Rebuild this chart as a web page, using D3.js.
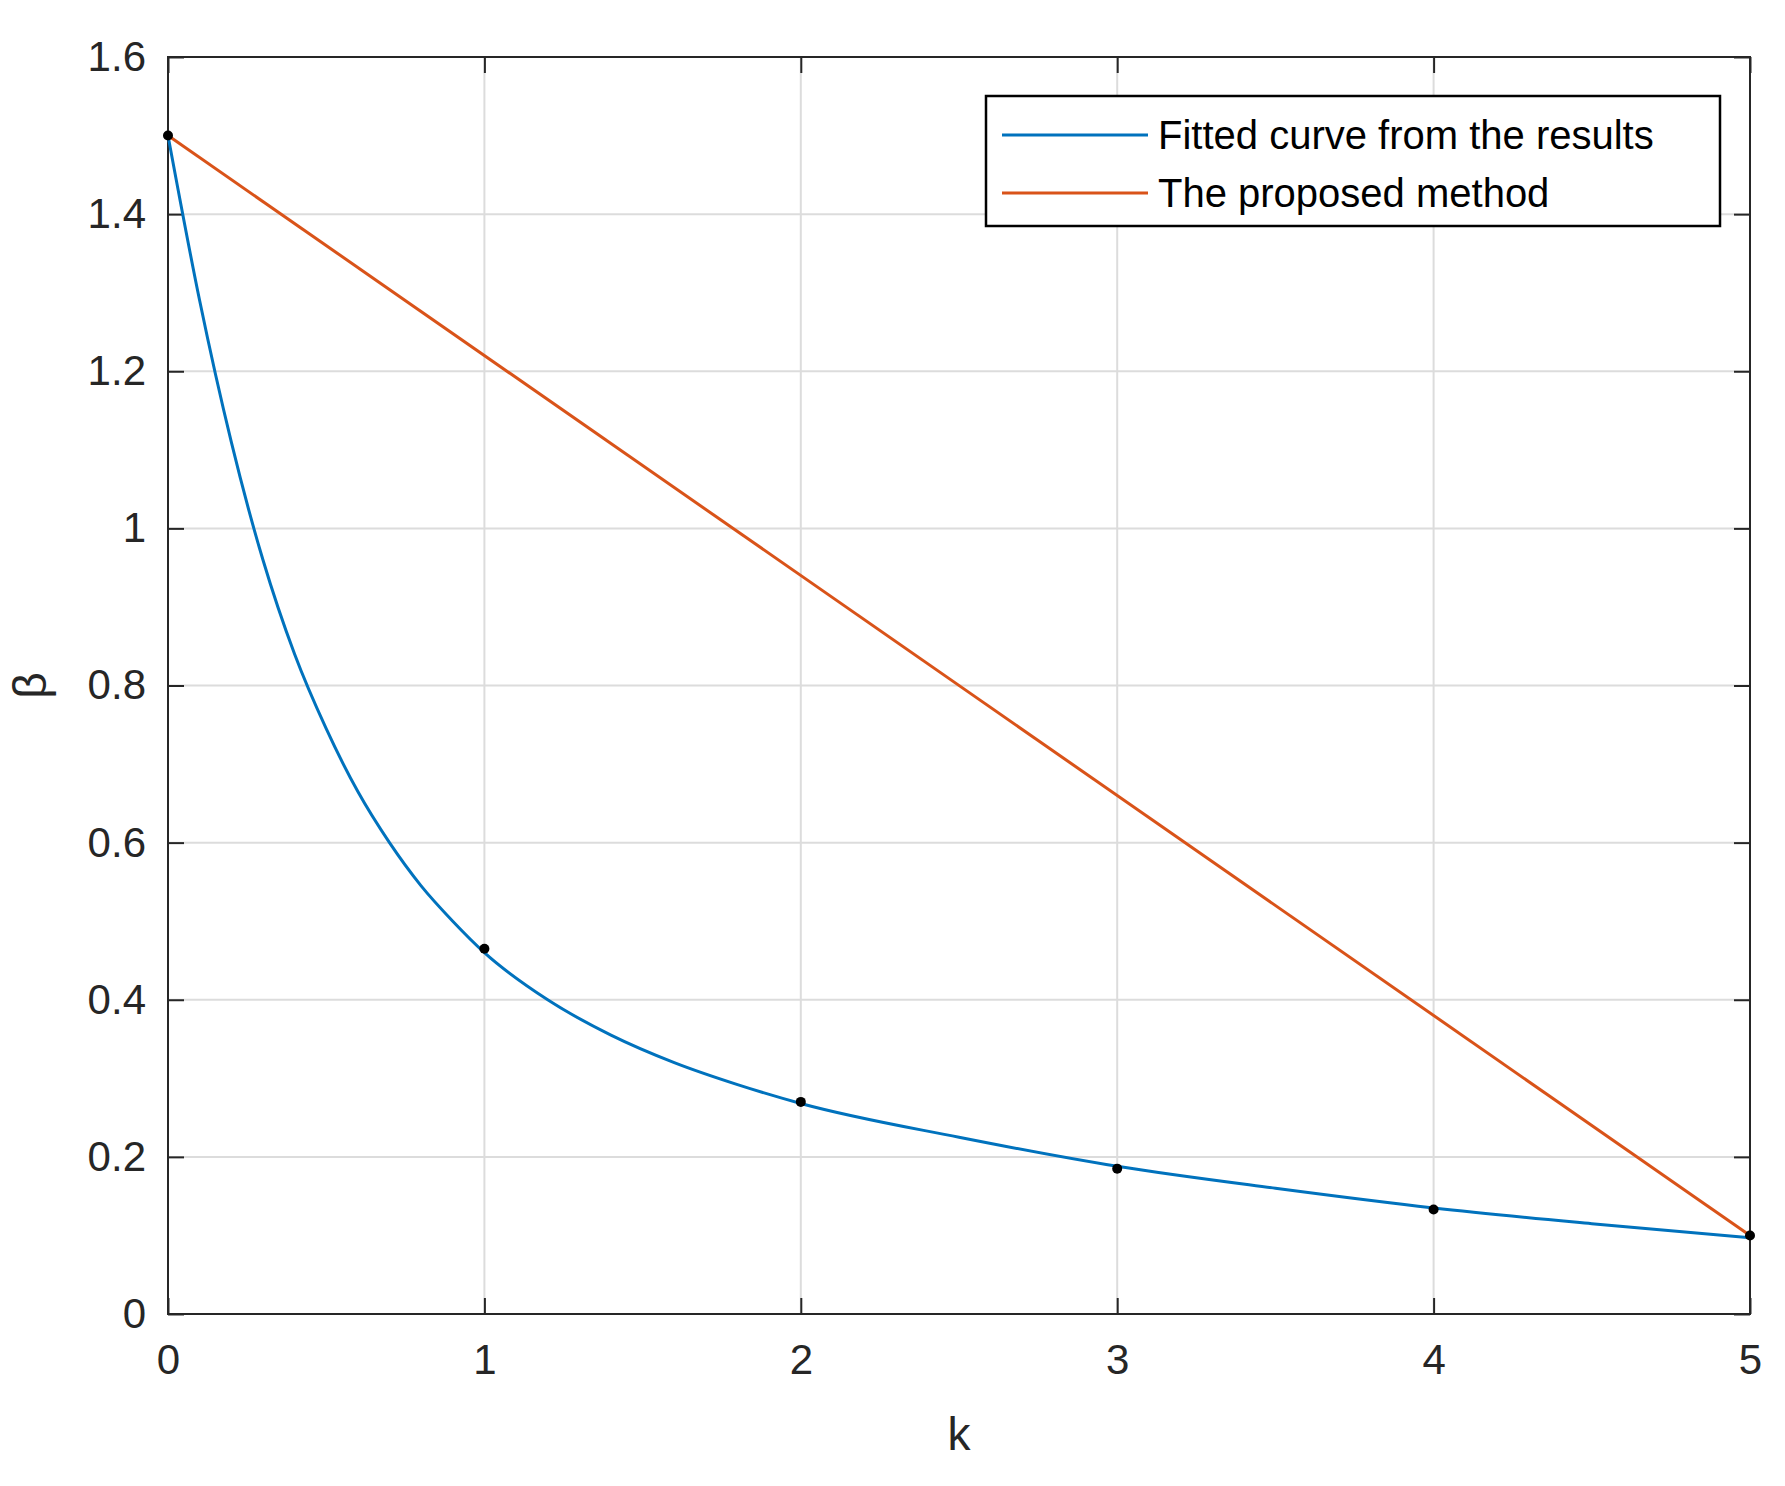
<!DOCTYPE html>
<html><head><meta charset="utf-8">
<script src="https://cdn.jsdelivr.net/npm/d3@7"></script>
<style>body{margin:0;background:#fff}text{font-family:Arial,"Liberation Sans",sans-serif;fill:#262626}</style>
</head><body><svg id="c" width="1785" height="1486"></svg>
<script>
// fitted curve samples (k, beta)
const fitK = [0,0.1,0.2,0.3,0.4,0.5,0.6,0.7,0.8,0.9,1,1.2,1.4,1.6,1.8,2,2.5,3,3.5,4,4.5,5];
const fitB = [1.5,1.29,1.11,0.96,0.84,0.745,0.665,0.6,0.545,0.5,0.46,0.4,0.355,0.32,0.292,0.268,0.225,0.188,0.16,0.135,0.115,0.097];
const propK = [0,5];
const propB = [1.5,0.1];
const dotK = [0,1,2,3,4,5];
const dotB = [1.5,0.465,0.27,0.185,0.133,0.1];
const xTicks = [0,1,2,3,4,5];
const yTicks = [0,0.2,0.4,0.6,0.8,1,1.2,1.4,1.6];
const legendLabels = ['Fitted curve from the results','The proposed method'];
const colors = ['#0072bd','#d95319'];

const m = {left:168, right:35, top:57, bottom:172};
const W = 1785, H = 1486;
const w = W - m.left - m.right, h = H - m.top - m.bottom;
const svg = d3.select('#c');
const g = svg.append('g').attr('transform','translate(' + m.left + ',' + m.top + ')');
const x = d3.scaleLinear().domain([0,5]).range([0,w]);
const y = d3.scaleLinear().domain([0,1.6]).range([h,0]);

// grid
g.selectAll('.gx').data(xTicks).enter().append('line')
  .attr('x1',d=>x(d)).attr('x2',d=>x(d)).attr('y1',0).attr('y2',h)
  .attr('stroke','#dcdcdc').attr('stroke-width',2);
g.selectAll('.gy').data(yTicks).enter().append('line')
  .attr('y1',d=>y(d)).attr('y2',d=>y(d)).attr('x1',0).attr('x2',w)
  .attr('stroke','#dcdcdc').attr('stroke-width',2);

const tk = 16;
const fmt = d => d3.format('')(+d.toFixed(1));
const styleAxis = sel => {
  sel.select('.domain').remove();
  sel.selectAll('line').attr('stroke','#262626').attr('stroke-width',2);
  sel.selectAll('text').attr('font-size',42).style('fill','#262626');
};
g.append('g').attr('transform','translate(0,' + h + ')')
  .call(d3.axisBottom(x).tickValues(xTicks).tickSize(-tk).tickPadding(30).tickFormat(fmt)).call(styleAxis);
g.append('g').call(d3.axisTop(x).tickValues(xTicks).tickSize(-tk).tickFormat('')).call(styleAxis);
g.append('g').call(d3.axisLeft(y).tickValues(yTicks).tickSize(-tk).tickPadding(22).tickFormat(fmt)).call(styleAxis);
g.append('g').attr('transform','translate(' + w + ',0)')
  .call(d3.axisRight(y).tickValues(yTicks).tickSize(-tk).tickFormat('')).call(styleAxis);
g.append('rect').attr('width',w).attr('height',h).attr('fill','none').attr('stroke','#262626').attr('stroke-width',2);

const line = d3.line().x(d=>x(d[0])).y(d=>y(d[1]));
g.append('path').datum(d3.zip(fitK,fitB)).attr('d',line.curve(d3.curveMonotoneX))
  .attr('fill','none').attr('stroke',colors[0]).attr('stroke-width',3);
g.append('path').datum(d3.zip(propK,propB)).attr('d',d3.line().x(d=>x(d[0])).y(d=>y(d[1])))
  .attr('fill','none').attr('stroke',colors[1]).attr('stroke-width',3);
g.selectAll('.dot').data(d3.zip(dotK,dotB)).enter().append('circle')
  .attr('cx',d=>x(d[0])).attr('cy',d=>y(d[1])).attr('r',5).attr('fill','#000');

// axis labels
g.append('text').attr('x',w/2).attr('y',h+136).attr('text-anchor','middle').attr('font-size',46).text('k');
g.append('text').attr('transform','translate(-122,' + (h/2) + ') rotate(-90)').attr('text-anchor','middle').attr('font-size',46).text('β');

// legend
const lg = svg.append('g').attr('transform','translate(986,96)');
lg.append('rect').attr('width',734).attr('height',130).attr('fill','#fff').attr('stroke','#000').attr('stroke-width',2.5);
legendLabels.forEach((t,i)=>{
  const yy = 39 + i*58;
  lg.append('line').attr('x1',16).attr('x2',162).attr('y1',yy).attr('y2',yy).attr('stroke',colors[i]).attr('stroke-width',3);
  lg.append('text').attr('x',172).attr('y',yy+14).attr('font-size',40).style('fill','#000').text(t);
});
</script></body></html>
